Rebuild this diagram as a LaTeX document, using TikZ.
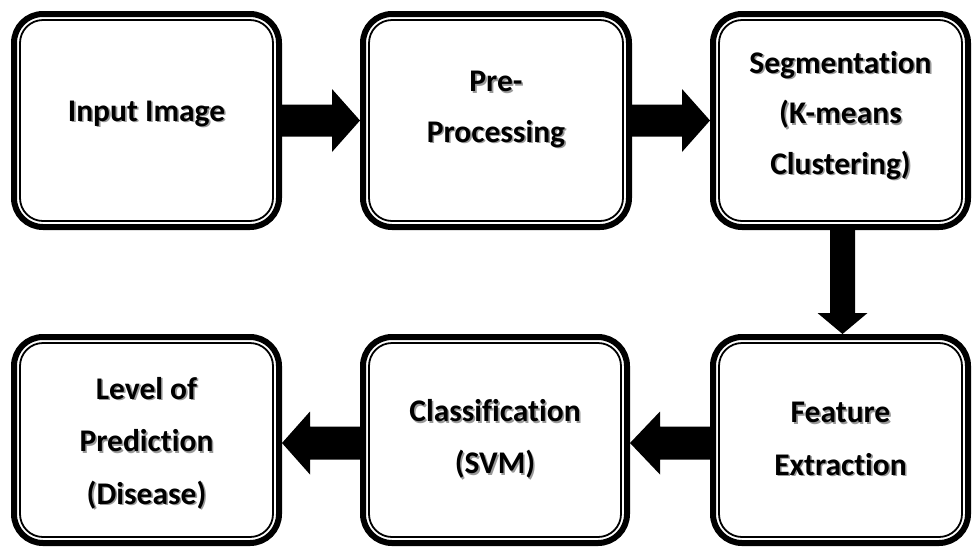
\documentclass[tikz,border=0pt]{standalone}
\usepackage{fontspec}
\setmainfont[Ligatures=NoCommon]{Carlito}
\usetikzlibrary{calc}
\tikzset{
  box/.style={draw=black, line width=6pt, rounded corners=29pt, outer sep=0pt, inner sep=0pt},
  innerline/.style={draw=black, line width=1.8pt, rounded corners=23pt},
  lbl/.style={font=\fontsize{31.5}{50.5}\selectfont\bfseries, align=center, text=black, inner sep=0pt},
  lblb/.style={lbl, font=\fontsize{31.5}{52.5}\selectfont\bfseries},
  lblshadow/.style={text=black!40},
  blockarrow/.style={fill=black},
}
% horizontal block arrow: #1 start, #2 tip, #3 shaft half, #4 head half, #5 signed head length
\newcommand\hblock[5]{%
  \fill[blockarrow] ($(#1)+(0,-#3)$) -- ($(#2)+(#5,-#3)$) -- ($(#2)+(#5,-#4)$) -- (#2)
    -- ($(#2)+(#5,#4)$) -- ($(#2)+(#5,#3)$) -- ($(#1)+(0,#3)$) -- cycle;}
% vertical block arrow
\newcommand\vblock[5]{%
  \fill[blockarrow] ($(#1)+(-#3,0)$) -- ($(#2)+(-#3,#5)$) -- ($(#2)+(-#4,#5)$) -- (#2)
    -- ($(#2)+(#4,#5)$) -- ($(#2)+(#3,#5)$) -- ($(#1)+(#3,0)$) -- cycle;}
\newcommand\boxlabel[5]{% #1 name, #2 box, #3 vertical offset, #4 style, #5 text
  \node[#4, lblshadow] (#1s) at ($(#2.center)+(1.6,#3+1.6)$) {#5};
  \node[#4] (#1) at ($(#2.center)+(0,#3)$) {#5};}
\newcommand\innerframe[1]{%
  \draw[innerline] ($(#1.north west)+(6,6)$) rectangle ($(#1.south east)+(-6,-6)$);}
\begin{document}
\begin{tikzpicture}[x=1pt,y=-1pt]
\useasboundingbox[fill=white] (0,0) rectangle (972,550);
% top row
\node[box, minimum width=265pt, minimum height=213pt] (b1) at (146.5,120.5) {};
\node[box, minimum width=266pt, minimum height=213pt] (b2) at (496,120.5) {};
\node[box, minimum width=255pt, minimum height=213pt] (b3) at (840.5,120.5) {};
% bottom row
\node[box, minimum width=265pt, minimum height=206pt] (b4) at (146.5,440) {};
\node[box, minimum width=264pt, minimum height=206pt] (b5) at (495,440) {};
\node[box, minimum width=255pt, minimum height=206pt] (b6) at (840.5,440) {};
\innerframe{b1}\innerframe{b2}\innerframe{b3}
\innerframe{b4}\innerframe{b5}\innerframe{b6}
% labels
\boxlabel{t1}{b1}{-7}{lbl}{Input Image}
\boxlabel{t2}{b2}{-11}{lbl}{Pre-\\Processing}
\boxlabel{t3}{b3}{-5}{lbl}{Segmentation\\(K-means\\Clustering)}
\boxlabel{t4}{b4}{3}{lblb}{Level of\\Prediction\\(Disease)}
\boxlabel{t5}{b5}{-1}{lblb}{Classification\\(SVM)}
\boxlabel{t6}{b6}{-1}{lblb}{Feature\\Extraction}
% arrows
\coordinate (a1t) at ($(b2.west)+(-3,0)$);
\hblock{b1.east}{a1t}{16}{31.5}{-28}
\coordinate (a2t) at ($(b3.west)+(-3,0)$);
\hblock{b2.east}{a2t}{16}{31.5}{-28}
\coordinate (a3s) at ($(b3.south)+(2,0)$);
\coordinate (a3t) at ($(b6.north)+(2,-3)$);
\vblock{a3s}{a3t}{12.5}{25}{-21}
\coordinate (a4s) at ($(b6.west)+(0,3)$);
\coordinate (a4t) at ($(b5.east)+(3,3)$);
\hblock{a4s}{a4t}{16.5}{31.5}{30}
\coordinate (a5s) at ($(b5.west)+(0,3)$);
\coordinate (a5t) at ($(b4.east)+(3,3)$);
\hblock{a5s}{a5t}{16.5}{31.5}{28}
\end{tikzpicture}
\end{document}
